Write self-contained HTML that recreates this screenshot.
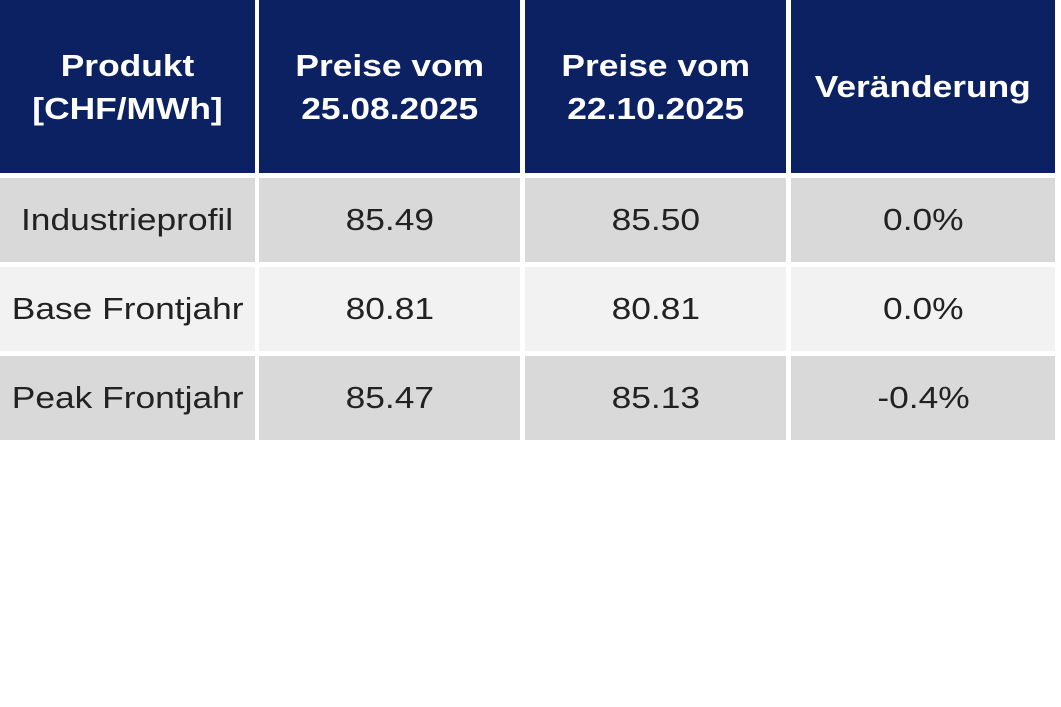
<!DOCTYPE html>
<html><head><meta charset="utf-8"><style>
body{margin:0;width:1061px;height:707px;background:#fff;overflow:hidden;font-family:"Liberation Sans",Arial,sans-serif;}
.c{position:absolute;display:flex;align-items:center;justify-content:center;text-align:center;}
.c span{display:inline-block;transform:scaleX(1.14);}
.h{background:#0b2161;color:#fff;font-weight:bold;font-size:31px;line-height:43px;}
.d{color:#222;font-size:31px;}
.g{background:#d9d9d9}.l{background:#f2f2f2}
</style></head><body>
<div class="c h" style="left:0;top:0;width:255px;height:173px"><span>Produkt<br>[CHF/MWh]</span></div>
<div class="c h" style="left:259px;top:0;width:261px;height:173px"><span>Preise vom<br>25.08.2025</span></div>
<div class="c h" style="left:525px;top:0;width:261px;height:173px"><span>Preise vom<br>22.10.2025</span></div>
<div class="c h" style="left:791px;top:0;width:264px;height:173px"><span>Veränderung</span></div>

<div class="c d g" style="left:0;top:178px;width:255px;height:84px"><span>Industrieprofil</span></div>
<div class="c d g" style="left:259px;top:178px;width:261px;height:84px"><span>85.49</span></div>
<div class="c d g" style="left:525px;top:178px;width:261px;height:84px"><span>85.50</span></div>
<div class="c d g" style="left:791px;top:178px;width:264px;height:84px"><span>0.0%</span></div>

<div class="c d l" style="left:0;top:267px;width:255px;height:84px"><span>Base Frontjahr</span></div>
<div class="c d l" style="left:259px;top:267px;width:261px;height:84px"><span>80.81</span></div>
<div class="c d l" style="left:525px;top:267px;width:261px;height:84px"><span>80.81</span></div>
<div class="c d l" style="left:791px;top:267px;width:264px;height:84px"><span>0.0%</span></div>

<div class="c d g" style="left:0;top:356px;width:255px;height:84px"><span>Peak Frontjahr</span></div>
<div class="c d g" style="left:259px;top:356px;width:261px;height:84px"><span>85.47</span></div>
<div class="c d g" style="left:525px;top:356px;width:261px;height:84px"><span>85.13</span></div>
<div class="c d g" style="left:791px;top:356px;width:264px;height:84px"><span>-0.4%</span></div>
</body></html>
